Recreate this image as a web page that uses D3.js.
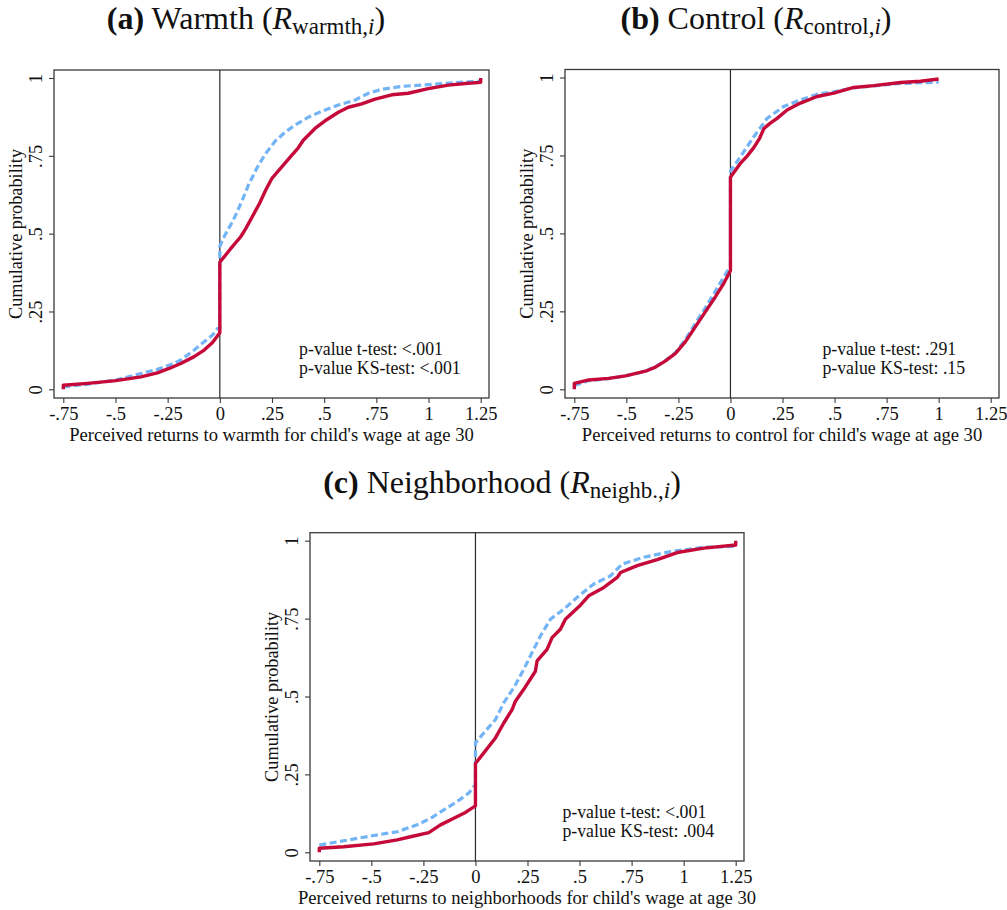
<!DOCTYPE html>
<html><head><meta charset="utf-8">
<script src="https://cdn.jsdelivr.net/npm/d3@7/dist/d3.min.js"></script>
<style>
html,body{margin:0;padding:0;background:#fff;}
svg text{font-family:"Liberation Serif","Times New Roman",serif;fill:#111;}
</style></head>
<body>
<svg id="chart" width="1007" height="910"></svg>
<script>
// ---------- DATA ----------
const xTickValues = [-0.75,-0.5,-0.25,0,0.25,0.5,0.75,1,1.25];
const xTickLabels = ["-.75","-.5","-.25","0",".25",".5",".75","1","1.25"];
const yTickValues = [0,0.25,0.5,0.75,1];
const yTickLabels = ["0",".25",".5",".75","1"];

// Panel (a) warmth: solid red series and dashed blue series, [return, cumulative probability]
const warmthSolid = [[-0.75,0.0],[-0.75,0.013],[-0.634,0.019],[-0.498,0.028],[-0.378,0.040],[-0.299,0.053],[-0.243,0.067],[-0.187,0.083],[-0.123,0.105],[-0.075,0.126],[-0.035,0.150],[0,0.182],[0,0.408],[0.05,0.45],[0.10,0.49],[0.125,0.517],[0.16,0.56],[0.19,0.597],[0.22,0.64],[0.25,0.678],[0.30,0.717],[0.34,0.748],[0.375,0.775],[0.40,0.800],[0.456,0.838],[0.512,0.866],[0.568,0.890],[0.616,0.906],[0.680,0.917],[0.744,0.932],[0.824,0.946],[0.903,0.951],[0.999,0.966],[1.095,0.977],[1.19,0.983],[1.25,0.986],[1.25,1.0]];
const warmthDashed = [[-0.75,0.008],[-0.634,0.016],[-0.498,0.030],[-0.378,0.051],[-0.299,0.064],[-0.24,0.078],[-0.187,0.094],[-0.123,0.126],[-0.075,0.153],[-0.035,0.174],[-0.01,0.196],[0,0.20],[0,0.46],[0.025,0.496],[0.065,0.544],[0.105,0.603],[0.137,0.656],[0.177,0.710],[0.217,0.755],[0.265,0.797],[0.313,0.826],[0.361,0.849],[0.424,0.874],[0.488,0.893],[0.568,0.913],[0.648,0.929],[0.712,0.951],[0.776,0.964],[0.872,0.973],[0.999,0.979],[1.127,0.985],[1.25,0.99]];

// Panel (b) control
const controlSolid = [[-0.75,0.0],[-0.75,0.019],[-0.68,0.030],[-0.585,0.035],[-0.504,0.043],[-0.408,0.058],[-0.36,0.071],[-0.312,0.091],[-0.264,0.115],[-0.216,0.153],[-0.168,0.201],[-0.120,0.249],[-0.072,0.297],[-0.032,0.340],[0,0.38],[0,0.68],[0.048,0.725],[0.08,0.748],[0.112,0.775],[0.14,0.805],[0.161,0.837],[0.19,0.853],[0.224,0.869],[0.272,0.896],[0.336,0.918],[0.416,0.939],[0.496,0.950],[0.592,0.968],[0.689,0.974],[0.817,0.984],[0.913,0.988],[1.0,0.995]];
const controlDashed = [[-0.75,0.012],[-0.68,0.028],[-0.585,0.034],[-0.504,0.043],[-0.408,0.058],[-0.36,0.073],[-0.312,0.092],[-0.264,0.118],[-0.216,0.160],[-0.168,0.212],[-0.120,0.262],[-0.072,0.315],[-0.032,0.36],[0,0.395],[0,0.70],[0.048,0.746],[0.112,0.810],[0.176,0.869],[0.256,0.907],[0.336,0.928],[0.416,0.946],[0.496,0.954],[0.592,0.967],[0.689,0.973],[0.817,0.981],[1.0,0.985]];

// Panel (c) neighborhood
const neighSolid = [[-0.75,0.0],[-0.75,0.013],[-0.633,0.018],[-0.489,0.027],[-0.376,0.040],[-0.312,0.050],[-0.224,0.063],[-0.168,0.088],[-0.104,0.109],[-0.048,0.128],[0,0.149],[0,0.285],[0.04,0.319],[0.096,0.367],[0.136,0.415],[0.176,0.458],[0.192,0.485],[0.232,0.523],[0.288,0.581],[0.296,0.614],[0.344,0.651],[0.368,0.689],[0.408,0.716],[0.432,0.748],[0.504,0.793],[0.544,0.823],[0.617,0.850],[0.681,0.882],[0.697,0.898],[0.777,0.920],[0.873,0.939],[0.969,0.962],[1.097,0.976],[1.25,0.986],[1.25,1.0]];
const neighDashed = [[-0.75,0.023],[-0.633,0.037],[-0.489,0.054],[-0.376,0.066],[-0.28,0.088],[-0.216,0.109],[-0.152,0.136],[-0.088,0.163],[-0.032,0.190],[-0.008,0.211],[0,0.215],[0,0.351],[0.04,0.383],[0.096,0.426],[0.136,0.480],[0.184,0.528],[0.232,0.587],[0.272,0.641],[0.312,0.694],[0.360,0.748],[0.424,0.780],[0.488,0.818],[0.568,0.861],[0.648,0.887],[0.705,0.925],[0.809,0.947],[0.937,0.965],[1.097,0.979],[1.25,0.982]];

const panelLetters = ["(a)","(b)","(c)"];
const panelNames = ["Warmth","Control","Neighborhood"];
const panelSubs = ["warmth,","control,","neighb.,"];
const xAxisTitles = ["Perceived returns to warmth for child's wage at age 30",
                     "Perceived returns to control for child's wage at age 30",
                     "Perceived returns to neighborhoods for child's wage at age 30"];
const yAxisTitle = "Cumulative probability";
const pTTest = ["<.001",".291","<.001"];
const pKSTest = ["<.001",".15",".004"];
const solidSeries = [warmthSolid, controlSolid, neighSolid];
const dashedSeries = [warmthDashed, controlDashed, neighDashed];

// ---------- LAYOUT ----------
const layout = [
  {frame:[54,70,489,398],   titleX:246, titleY:29,  noteX:0.375},
  {frame:[565,69.5,999,398],titleX:756, titleY:29,  noteX:0.437},
  {frame:[310,532.7,744,861],titleX:502, titleY:493, noteX:0.413}
];
const inset = {l:9.3, r:8.3, t:8, b:8.7};
const RED = "#c50a3a", BLUE = "#72b4f5";

const svg = d3.select("#chart");

layout.forEach((L, i) => {
  const [fl, ft, fr, fb] = L.frame;
  const x = d3.scaleLinear().domain([-0.75,1.25]).range([fl+inset.l, fr-inset.r]);
  const y = d3.scaleLinear().domain([0,1]).range([fb-inset.b, ft+inset.t]);
  const g = svg.append("g");

  // title
  const t = g.append("text").attr("x", L.titleX).attr("y", L.titleY)
    .attr("text-anchor","middle").style("font-size","32px");
  t.append("tspan").style("font-weight","bold").text(panelLetters[i]);
  t.append("tspan").text(" " + panelNames[i] + " (");
  t.append("tspan").style("font-style","italic").text("R");
  t.append("tspan").attr("dy",5).style("font-size","23px").text(panelSubs[i]);
  t.append("tspan").style("font-size","23px").style("font-style","italic").text("i");
  t.append("tspan").attr("dy",-5).text(")");

  // frame
  g.append("rect").attr("x",fl).attr("y",ft).attr("width",fr-fl).attr("height",fb-ft)
    .attr("fill","none").attr("stroke","#3a3a3a").attr("stroke-width",1.3);

  // x axis
  const xAxis = d3.axisBottom(x).tickValues(xTickValues)
    .tickFormat((d,k)=>xTickLabels[k]).tickSize(5).tickPadding(4);
  const xa = g.append("g").attr("transform",`translate(0,${fb})`).call(xAxis);
  xa.select(".domain").remove();
  xa.selectAll("line").attr("stroke","#3a3a3a").attr("stroke-width",1.1);
  xa.selectAll("text").style("font-size","18.5px").attr("fill","#111")
    .style("font-family","Liberation Serif");

  // y axis (rotated labels)
  const yAxis = d3.axisLeft(y).tickValues(yTickValues)
    .tickFormat((d,k)=>yTickLabels[k]).tickSize(5).tickPadding(7);
  const ya = g.append("g").attr("transform",`translate(${fl},0)`).call(yAxis);
  ya.select(".domain").remove();
  ya.selectAll("line").attr("stroke","#3a3a3a").attr("stroke-width",1.1);
  ya.selectAll("text").style("font-size","18.5px").attr("fill","#111")
    .style("font-family","Liberation Serif")
    .attr("x",null).attr("dy",null)
    .attr("text-anchor","middle")
    .attr("transform", () => `translate(-12,0) rotate(-90)`);

  // axis titles
  g.append("text").attr("x",(fl+fr)/2).attr("y",fb+43).attr("text-anchor","middle")
    .style("font-size","18.6px").text(xAxisTitles[i]);
  g.append("text").attr("transform",`translate(${fl-32},${(ft+fb)/2}) rotate(-90)`)
    .attr("text-anchor","middle").style("font-size","18.3px").text(yAxisTitle);

  // vertical reference line at 0
  g.append("line").attr("x1",x(0)).attr("x2",x(0)).attr("y1",ft).attr("y2",fb)
    .attr("stroke","#2a2a2a").attr("stroke-width",1.2);

  const line = d3.line().x(d=>x(d[0])).y(d=>y(d[1]));
  g.append("path").datum(dashedSeries[i]).attr("d",line).attr("fill","none")
    .attr("stroke",BLUE).attr("stroke-width",3.2).attr("stroke-dasharray","7,3.5");
  g.append("path").datum(solidSeries[i]).attr("d",line).attr("fill","none")
    .attr("stroke",RED).attr("stroke-width",3.4).attr("stroke-linejoin","round");

  // annotation (two lines)
  const nx = x(L.noteX) + 1;
  g.append("text").attr("x",nx).attr("y",y(0.107) - 1).style("font-size","17.8px")
    .text("p-value t-test: " + pTTest[i]);
  g.append("text").attr("x",nx).attr("y",y(0.107) + 18).style("font-size","17.8px")
    .text("p-value KS-test: " + pKSTest[i]);
});
</script>
</body></html>
